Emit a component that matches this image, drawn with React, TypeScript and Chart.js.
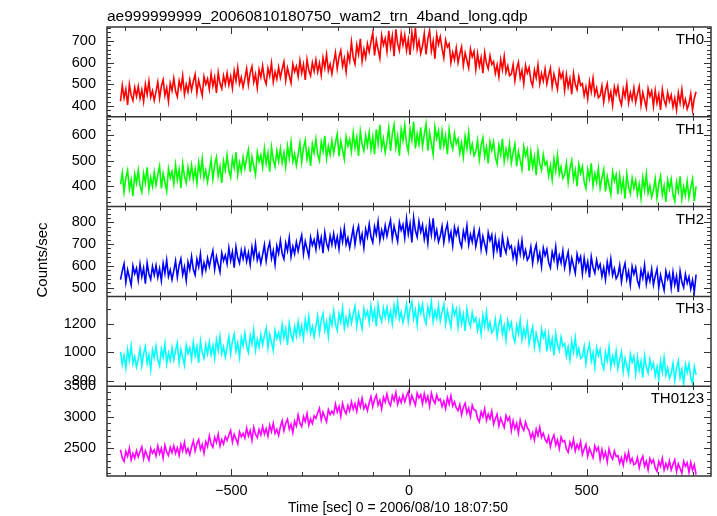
import React, { useEffect, useRef } from 'react';
import { Chart, registerables } from 'chart.js';

Chart.register(...registerables);

// ---- data (time bins: start + i*step seconds) ----
const T_START = -812;
const T_STEP = 5;

const TH0 = [
  422, 495, 437, 477, 405, 500, 450, 425, 485, 445,
  490, 435, 475, 420, 500, 453, 515, 440, 470, 425,
  466, 511, 436, 491, 521, 448, 484, 421, 506, 471,
  528, 468, 443, 516, 480, 540, 453, 500, 466, 521,
  473, 513, 546, 460, 518, 483, 448, 536, 500, 525,
  477, 550, 492, 532, 460, 555, 505, 480, 540, 500,
  552, 497, 537, 482, 562, 515, 577, 502, 532, 487,
  528, 573, 498, 553, 583, 510, 546, 483, 568, 533,
  586, 526, 501, 574, 538, 598, 511, 558, 524, 579,
  531, 571, 604, 518, 576, 541, 506, 594, 558, 583,
  537, 610, 552, 592, 520, 615, 565, 540, 600, 560,
  613, 558, 598, 543, 623, 576, 638, 563, 593, 548,
  602, 647, 572, 627, 657, 584, 620, 557, 642, 607,
  696, 624, 594, 682, 638, 710, 606, 662, 622, 688,
  650, 698, 738, 634, 704, 662, 620, 726, 682, 712,
  652, 747, 672, 724, 630, 754, 688, 656, 734, 682,
  728, 656, 708, 636, 740, 680, 760, 662, 702, 643,
  677, 735, 638, 710, 748, 654, 700, 618, 729, 684,
  720, 666, 622, 705, 672, 687, 600, 647, 613, 668,
  600, 640, 673, 587, 645, 610, 575, 663, 627, 652,
  569, 642, 584, 624, 552, 647, 597, 572, 632, 592,
  605, 550, 590, 535, 615, 568, 630, 555, 585, 540,
  547, 592, 517, 572, 602, 529, 565, 502, 587, 552,
  578, 518, 493, 566, 530, 590, 503, 550, 516, 571,
  502, 542, 575, 489, 547, 512, 477, 565, 529, 554,
  472, 545, 487, 527, 455, 550, 500, 475, 535, 495,
  503, 448, 488, 433, 513, 466, 528, 453, 483, 438,
  448, 493, 418, 473, 503, 430, 466, 403, 488, 453,
  490, 430, 405, 478, 442, 502, 415, 462, 428, 483,
  417, 457, 490, 404, 462, 427, 392, 480, 444, 469,
  399, 472, 414, 454, 382, 477, 427, 402, 462, 422,
  451, 396, 436, 381, 461, 414, 476, 401, 431, 386,
  411, 456, 381, 436, 466,
];

const TH1 = [
  407, 452, 377, 432, 462, 389, 425, 362, 447, 412,
  462, 402, 377, 450, 414, 474, 387, 434, 400, 455,
  405, 445, 478, 392, 450, 415, 380, 468, 432, 457,
  410, 483, 425, 465, 393, 488, 438, 413, 473, 433,
  482, 427, 467, 412, 492, 445, 507, 432, 462, 417,
  458, 503, 428, 483, 513, 440, 476, 413, 498, 463,
  520, 460, 435, 508, 472, 532, 445, 492, 458, 513,
  469, 509, 542, 456, 514, 479, 444, 532, 496, 521,
  474, 547, 489, 529, 457, 552, 502, 477, 537, 497,
  546, 491, 531, 476, 556, 509, 571, 496, 526, 481,
  524, 569, 494, 549, 579, 506, 542, 479, 564, 529,
  584, 524, 499, 572, 536, 596, 509, 556, 522, 577,
  530, 570, 603, 517, 575, 540, 505, 593, 557, 582,
  535, 608, 550, 590, 518, 613, 563, 538, 598, 558,
  609, 543, 591, 525, 621, 565, 639, 549, 585, 531,
  573, 627, 537, 603, 639, 551, 595, 519, 621, 579,
  637, 565, 535, 623, 579, 651, 547, 603, 563, 629,
  554, 602, 642, 538, 608, 566, 524, 630, 586, 616,
  542, 615, 557, 597, 525, 620, 570, 545, 605, 565,
  584, 529, 569, 514, 594, 547, 609, 534, 564, 519,
  534, 579, 504, 559, 589, 516, 552, 489, 574, 539,
  572, 512, 487, 560, 524, 584, 497, 544, 510, 565,
  491, 531, 564, 478, 536, 501, 466, 554, 518, 543,
  460, 533, 475, 515, 443, 538, 488, 463, 523, 483,
  496, 441, 481, 426, 506, 459, 521, 446, 476, 431,
  445, 490, 415, 470, 500, 427, 463, 400, 485, 450,
  477, 417, 392, 465, 429, 489, 402, 449, 415, 470,
  393, 433, 466, 380, 438, 403, 368, 456, 420, 445,
  369, 442, 384, 424, 352, 447, 397, 372, 432, 392,
  423, 368, 408, 353, 433, 386, 448, 373, 403, 358,
  384, 429, 354, 409, 439, 366, 402, 339, 424, 389,
  427, 367, 342, 415, 379, 439, 352, 399, 365, 420,
  355, 395, 428, 342, 400,
];

const TH2 = [
  537, 577, 610, 524, 582, 547, 512, 600, 564, 589,
  535, 608, 550, 590, 518, 613, 563, 538, 598, 558,
  602, 547, 587, 532, 612, 565, 627, 552, 582, 537,
  578, 623, 548, 603, 633, 560, 596, 533, 618, 583,
  643, 583, 558, 631, 595, 655, 568, 615, 581, 636,
  597, 637, 670, 584, 642, 607, 572, 660, 624, 649,
  609, 682, 624, 664, 592, 687, 637, 612, 672, 632,
  676, 621, 661, 606, 686, 639, 701, 626, 656, 611,
  652, 697, 622, 677, 707, 634, 670, 607, 692, 657,
  717, 657, 632, 705, 669, 729, 642, 689, 655, 710,
  668, 708, 741, 655, 713, 678, 643, 731, 695, 720,
  675, 748, 690, 730, 658, 753, 703, 678, 738, 698,
  748, 693, 733, 678, 758, 711, 773, 698, 728, 683,
  728, 773, 698, 753, 783, 710, 746, 683, 768, 733,
  792, 732, 707, 780, 744, 804, 717, 764, 730, 785,
  737, 777, 810, 724, 782, 747, 712, 800, 764, 789,
  728, 816, 746, 794, 708, 822, 762, 732, 804, 756,
  788, 722, 770, 704, 800, 744, 818, 728, 764, 710,
  737, 782, 707, 762, 792, 719, 755, 692, 777, 742,
  772, 712, 687, 760, 724, 784, 697, 744, 710, 765,
  690, 730, 763, 677, 735, 700, 665, 753, 717, 742,
  657, 730, 672, 712, 640, 735, 685, 660, 720, 680,
  692, 637, 677, 622, 702, 655, 717, 642, 672, 627,
  642, 687, 612, 667, 697, 624, 660, 597, 682, 647,
  676, 616, 591, 664, 628, 688, 601, 648, 614, 669,
  591, 631, 664, 578, 636, 601, 566, 654, 618, 643,
  564, 637, 579, 619, 547, 642, 592, 567, 627, 587,
  607, 552, 592, 537, 617, 570, 632, 557, 587, 542,
  557, 602, 527, 582, 612, 539, 575, 512, 597, 562,
  592, 532, 507, 580, 544, 604, 517, 564, 530, 585,
  513, 553, 586, 500, 558, 523, 488, 576, 540, 565,
  498, 571, 513, 553, 481, 576, 526, 501, 561, 521,
  550, 495, 535, 480, 560,
];

const TH3 = [
  1002, 914, 978, 890, 1018, 943, 1042, 922, 970, 898,
  952, 1024, 904, 992, 1040, 923, 981, 880, 1016, 960,
  1041, 945, 905, 1022, 964, 1060, 921, 996, 942, 1030,
  948, 1012, 1065, 927, 1020, 964, 908, 1049, 991, 1031,
  952, 1069, 976, 1040, 925, 1077, 997, 957, 1053, 989,
  1070, 982, 1046, 958, 1086, 1011, 1110, 990, 1038, 966,
  1037, 1109, 989, 1077, 1125, 1008, 1066, 965, 1101, 1045,
  1134, 1038, 998, 1115, 1057, 1153, 1014, 1089, 1035, 1123,
  1052, 1116, 1169, 1031, 1124, 1068, 1012, 1153, 1095, 1135,
  1077, 1194, 1101, 1165, 1050, 1202, 1122, 1082, 1178, 1114,
  1210, 1122, 1186, 1098, 1226, 1151, 1250, 1130, 1178, 1106,
  1182, 1254, 1134, 1222, 1270, 1153, 1211, 1110, 1246, 1190,
  1288, 1192, 1152, 1269, 1211, 1307, 1168, 1243, 1189, 1277,
  1203, 1267, 1320, 1182, 1275, 1219, 1163, 1304, 1246, 1286,
  1207, 1324, 1231, 1295, 1180, 1332, 1252, 1212, 1308, 1244,
  1311, 1223, 1287, 1199, 1327, 1252, 1351, 1231, 1279, 1207,
  1263, 1335, 1215, 1303, 1351, 1234, 1292, 1191, 1327, 1271,
  1334, 1238, 1198, 1315, 1257, 1353, 1214, 1289, 1235, 1323,
  1217, 1281, 1334, 1196, 1289, 1233, 1177, 1318, 1260, 1300,
  1175, 1292, 1199, 1263, 1148, 1300, 1220, 1180, 1276, 1212,
  1240, 1152, 1216, 1128, 1256, 1181, 1280, 1160, 1208, 1136,
  1156, 1228, 1108, 1196, 1244, 1127, 1185, 1084, 1220, 1164,
  1206, 1110, 1070, 1187, 1129, 1225, 1086, 1161, 1107, 1195,
  1060, 1124, 1177, 1039, 1132, 1076, 1020, 1161, 1103, 1143,
  1005, 1122, 1029, 1093, 978, 1130, 1050, 1010, 1106, 1042,
  1060, 972, 1036, 948, 1076, 1001, 1100, 980, 1028, 956,
  968, 1040, 920, 1008, 1056, 939, 997, 896, 1032, 976,
  1018, 922, 882, 999, 941, 1037, 898, 973, 919, 1007,
  886, 950, 1003, 865, 958, 902, 846, 987, 929, 969,
  850, 967, 874, 938, 823, 975, 895, 855, 951, 887,
  922, 834, 898, 810, 938, 863, 962, 842, 890, 818,
  851, 923, 803, 891, 939, 822, 880, 779, 915, 859,
  919, 823, 783, 900, 842,
];

const TH0123 = [
  2476, 2344, 2289, 2450, 2370, 2502, 2311, 2414, 2340, 2461,
  2361, 2449, 2522, 2332, 2460, 2383, 2306, 2500, 2420, 2475,
  2377, 2538, 2410, 2498, 2340, 2549, 2439, 2384, 2516, 2428,
  2540, 2419, 2507, 2386, 2562, 2459, 2595, 2430, 2496, 2397,
  2520, 2619, 2454, 2575, 2641, 2480, 2560, 2421, 2608, 2531,
  2702, 2570, 2515, 2676, 2596, 2728, 2537, 2640, 2566, 2687,
  2626, 2714, 2787, 2597, 2725, 2648, 2571, 2765, 2685, 2740,
  2663, 2824, 2696, 2784, 2626, 2835, 2725, 2670, 2802, 2714,
  2850, 2729, 2817, 2696, 2872, 2769, 2905, 2740, 2806, 2707,
  2848, 2947, 2782, 2903, 2969, 2808, 2888, 2749, 2936, 2859,
  3036, 2904, 2849, 3010, 2930, 3062, 2871, 2974, 2900, 3021,
  2983, 3071, 3144, 2954, 3082, 3005, 2928, 3122, 3042, 3097,
  3051, 3212, 3084, 3172, 3014, 3223, 3113, 3058, 3190, 3102,
  3249, 3128, 3216, 3095, 3271, 3168, 3304, 3139, 3205, 3106,
  3234, 3333, 3168, 3289, 3355, 3194, 3274, 3135, 3322, 3245,
  3374, 3242, 3187, 3348, 3268, 3400, 3209, 3312, 3238, 3359,
  3250, 3338, 3411, 3221, 3349, 3272, 3195, 3389, 3309, 3364,
  3217, 3378, 3250, 3338, 3180, 3389, 3279, 3224, 3356, 3268,
  3293, 3172, 3260, 3139, 3315, 3212, 3348, 3183, 3249, 3150,
  3106, 3205, 3040, 3161, 3227, 3066, 3146, 3007, 3194, 3117,
  3112, 2980, 2925, 3086, 3006, 3138, 2947, 3050, 2976, 3097,
  2889, 2977, 3050, 2860, 2988, 2911, 2834, 3028, 2948, 3003,
  2782, 2943, 2815, 2903, 2745, 2954, 2844, 2789, 2921, 2833,
  2785, 2664, 2752, 2631, 2807, 2704, 2840, 2675, 2741, 2642,
  2592, 2691, 2526, 2647, 2713, 2552, 2632, 2493, 2680, 2603,
  2622, 2490, 2435, 2596, 2516, 2648, 2457, 2560, 2486, 2607,
  2401, 2489, 2562, 2372, 2500, 2423, 2346, 2540, 2460, 2515,
  2317, 2478, 2350, 2438, 2280, 2489, 2379, 2324, 2456, 2368,
  2380, 2259, 2347, 2226, 2402, 2299, 2435, 2270, 2336, 2237,
  2250, 2349, 2184, 2305, 2371, 2210, 2290, 2151, 2338, 2261,
  2314, 2182, 2127, 2288, 2208, 2340, 2149, 2252, 2178, 2299,
  2152, 2240, 2313, 2123, 2251, 2174, 2097, 2291, 2211, 2266,
  2112, 2273, 2145, 2233, 2075,
];

const SERIES = [TH0, TH1, TH2, TH3, TH0123];
const PANEL_NAMES = ['TH0', 'TH1', 'TH2', 'TH3', 'TH0123'];
const PANEL_COLORS = ['#ff0000', '#00ff00', '#0000ff', '#00ffff', '#ff00ff'];

// axis ranges and tick labels
const Y_MIN = [350, 321, 460, 763, 2053];
const Y_MAX = [765, 670, 872, 1389, 3500];
const Y_TICKS = [
  [400, 500, 600, 700],
  [400, 500, 600],
  [500, 600, 700, 800],
  [800, 1000, 1200],
  [2500, 3000, 3500],
];
const Y_MINOR = [20, 20, 20, 100, 100];
const X_MIN = -850;
const X_MAX = 850;
const X_TICKS = [-500, 0, 500];
const X_MINOR = 100;

const TITLE = 'ae999999999_20060810180750_wam2_trn_4band_long.qdp';
const X_TITLE = 'Time [sec] 0 = 2006/08/10 18:07:50';
const Y_TITLE = 'Counts/sec';

const FONT = '"Liberation Sans", Arial, Helvetica, sans-serif';

const framePlugin = {
  id: 'qdpFrame',
  afterDatasetsDraw(chart: any) {
    const ctx = chart.ctx;
    const ca = chart.chartArea;
    const xs = chart.scales.x;
    const line = (x1: number, y1: number, x2: number, y2: number) => {
      ctx.beginPath();
      ctx.moveTo(x1, y1);
      ctx.lineTo(x2, y2);
      ctx.stroke();
    };
    ctx.save();
    ctx.strokeStyle = '#333';
    ctx.lineWidth = 1;
    for (let i = 0; i < SERIES.length; i++) {
      const ys = chart.scales['y' + i];
      const top = ys.top;
      const bottom = ys.bottom;
      const step = Y_MINOR[i];
      for (let v = Math.ceil(ys.min / step) * step; v <= ys.max + 1e-6; v += step) {
        const major = Y_TICKS[i].includes(v);
        const len = major ? 7 : 4;
        const y = Math.round(ys.getPixelForValue(v)) + 0.5;
        line(ca.left, y, ca.left + len, y);
        line(ca.right, y, ca.right - len, y);
      }
      for (let t = Math.ceil(X_MIN / X_MINOR) * X_MINOR; t <= X_MAX; t += X_MINOR) {
        const major = X_TICKS.includes(t);
        const len = major ? 7 : 4;
        const x = Math.round(xs.getPixelForValue(t)) + 0.5;
        line(x, top, x, top + len);
        line(x, bottom, x, bottom - len);
      }
    }
    ctx.lineWidth = 1.5;
    ctx.strokeRect(ca.left, ca.top, ca.right - ca.left, ca.bottom - ca.top);
    for (let i = 1; i < SERIES.length; i++) {
      const ys = chart.scales['y' + i];
      line(ca.left, ys.top, ca.right, ys.top);
    }
    ctx.fillStyle = '#000';
    ctx.font = '15px ' + FONT;
    ctx.textAlign = 'right';
    ctx.textBaseline = 'alphabetic';
    for (let i = 0; i < SERIES.length; i++) {
      const ys = chart.scales['y' + i];
      ctx.fillText(PANEL_NAMES[i], ca.right - 7, ys.top + 17);
    }
    ctx.textAlign = 'left';
    ctx.font = '15.5px ' + FONT;
    ctx.fillText(TITLE, ca.left, 21);
    ctx.textAlign = 'center';
    ctx.font = '14px ' + FONT;
    ctx.fillText(X_TITLE, 398, 512);
    ctx.save();
    ctx.translate(47, 260);
    ctx.rotate(-Math.PI / 2);
    ctx.font = '15px ' + FONT;
    ctx.fillText(Y_TITLE, 0, 0);
    ctx.restore();
    ctx.restore();
  },
};

export default function App() {
  const ref = useRef<HTMLCanvasElement | null>(null);
  useEffect(() => {
    if (!ref.current) return;
    const datasets = SERIES.map((arr, i) => ({
      label: PANEL_NAMES[i],
      data: arr.map((v, k) => ({ x: T_START + k * T_STEP, y: v })),
      yAxisID: 'y' + i,
      borderColor: PANEL_COLORS[i],
      borderWidth: 1.6,
      borderJoinStyle: 'miter',
      pointRadius: 0,
      tension: 0,
      fill: false,
    }));
    const scales: any = {
      x: {
        type: 'linear',
        position: 'bottom',
        min: X_MIN,
        max: X_MAX,
        grid: { display: false, drawTicks: false },
        border: { display: false },
        afterBuildTicks: (s: any) => {
          s.ticks = X_TICKS.map((v) => ({ value: v }));
        },
        afterFit: (s: any) => {
          s.height = 40;
        },
        ticks: {
          autoSkip: false,
          maxRotation: 0,
          padding: 6,
          color: '#000',
          font: { family: FONT, size: 14.5 },
          callback: (v: number) => (v < 0 ? '\u2212' + Math.abs(v) : String(v)),
        },
      },
    };
    SERIES.forEach((_, i) => {
      scales['y' + i] = {
        type: 'linear',
        position: 'left',
        stack: 'panels',
        stackWeight: 1,
        weight: SERIES.length - i,
        min: Y_MIN[i],
        max: Y_MAX[i],
        grid: { display: false, drawTicks: false },
        border: { display: false },
        afterBuildTicks: (s: any) => {
          s.ticks = Y_TICKS[i].map((v) => ({ value: v }));
        },
        afterFit: (s: any) => {
          s.width = 107;
        },
        ticks: {
          autoSkip: false,
          padding: 11,
          color: '#000',
          font: { family: FONT, size: 14.5 },
          callback: (v: number) => String(v),
        },
      };
    });
    const chart = new Chart(ref.current, {
      type: 'line',
      data: { datasets },
      options: {
        animation: false,
        responsive: false,
        devicePixelRatio: 1,
        layout: { padding: { top: 27, right: 6, left: 0, bottom: 0 } },
        plugins: { legend: { display: false }, tooltip: { enabled: false }, title: { display: false } },
        scales,
      },
      plugins: [framePlugin],
    } as any);
    return () => chart.destroy();
  }, []);
  return (
    <div style={{ position: 'fixed', left: 0, top: 0, width: 717, height: 516, background: '#fff' }}>
      <canvas ref={ref} width={717} height={516} style={{ display: 'block', width: 717, height: 516 }} />
    </div>
  );
}
